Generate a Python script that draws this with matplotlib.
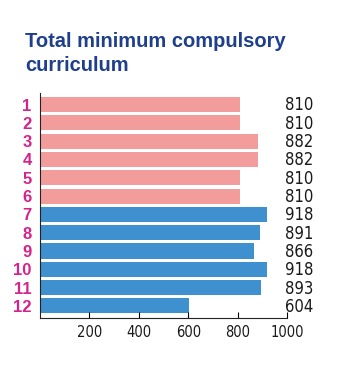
import matplotlib.pyplot as plt

# données
rows = ["1", "2", "3", "4", "5", "6", "7", "8", "9", "10", "11", "12"]
hours = [810, 810, 882, 882, 810, 810, 918, 891, 866, 918, 893, 604]
groups = ["a"] * 6 + ["b"] * 6
colors = {"a": "#f39c9c", "b": "#3f90cf"}
xticks = [200, 400, 600, 800, 1000]

fig = plt.figure(figsize=(3.53, 3.70), dpi=100)
ax = fig.add_axes([40 / 353, 1 - 318 / 370, 247 / 353, 225 / 370])

pos = list(range(len(rows)))
ax.barh(pos, hours, height=0.82, color=[colors[g] for g in groups])

for p, v in zip(pos, hours):
    ax.text(990, p + 0.05, str(v), ha="left", va="center", fontsize=12,
            family="DejaVu Sans", fontstretch="condensed", color="#1a1a1a",
            clip_on=False)

ax.set_xlim(0, 1000)
ax.set_ylim(11.66, -0.63)
ax.set_yticks(pos)
ax.set_yticklabels(rows, color="#d4238a", fontweight="bold", fontsize=12,
                   family="Liberation Sans")
ax.tick_params(axis="y", length=0, pad=6)
ax.set_xticks(xticks)
ax.set_xticklabels([str(t) for t in xticks], fontsize=10.5,
                   family="DejaVu Sans", fontstretch="condensed",
                   color="#1a1a1a")
ax.tick_params(axis="x", direction="in", length=4, width=0.8, pad=5)

for s in ["top", "right"]:
    ax.spines[s].set_visible(False)
for s in ["left", "bottom"]:
    ax.spines[s].set_color("#222222")
    ax.spines[s].set_linewidth(0.8)

fig.text(25 / 353, 1 - 32 / 370, "Total minimum compulsory\ncurriculum",
         ha="left", va="top", fontsize=14.5, fontweight="bold",
         family="Liberation Sans", color="#1f3f8c", linespacing=1.35)

fig.savefig("out.png", dpi=100)
